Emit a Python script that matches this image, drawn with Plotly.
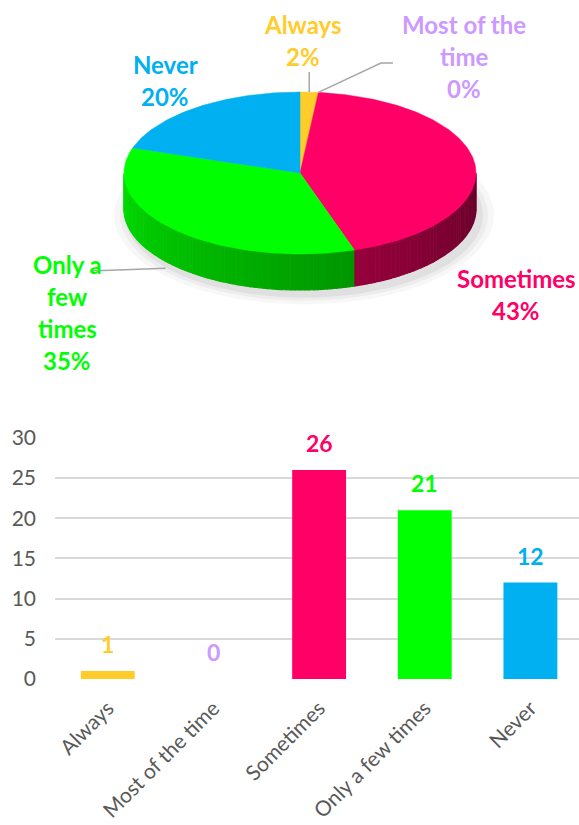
import math
import plotly.graph_objects as go

# ---- data ----
categories = ["Always", "Most of the time", "Sometimes", "Only a few times", "Never"]
counts = [1, 0, 26, 21, 12]
colors = ["#FFCC29", "#CC99FF", "#FF0066", "#00FF00", "#00B0F0"]
pie_label_lines = [["Always"], ["Most of the", "time"], ["Sometimes"], ["Only a", "few", "times"], ["Never"]]
y_ticks = [0, 5, 10, 15, 20, 25, 30]

W, H = 579, 825
FONT = "Lato"
GREY = "#595959"

total = sum(counts)
pcts = [round(c / total * 100) for c in counts]

# ---- tilted pie geometry, in page pixels on a hidden overlay axis ----
CX, CY, RX, RY, DEPTH = 300, 173, 176, 81, 36


def rim(theta, drop=0.0):
    """Point on the pie rim; theta in degrees clockwise from 12 o'clock."""
    t = math.radians(theta)
    return CX + RX * math.sin(t), CY - RY * math.cos(t) + drop


def shade(hex_color, k):
    r, g, b = (int(hex_color[i:i + 2], 16) for i in (1, 3, 5))
    return "rgb({},{},{})".format(int(r * k), int(g * k), int(b * k))


def arc(a0, a1, drop=0.0, step=1.0):
    n = max(2, int(abs(a1 - a0) / step) + 1)
    return [rim(a0 + (a1 - a0) * i / (n - 1), drop) for i in range(n)]


fig = go.Figure()

# soft shadow under the pie
for grow, alpha in [(14, 0.03), (8, 0.04), (3, 0.05)]:
    pts = [(CX + 4 + (RX + grow) * math.sin(math.radians(a)),
            CY + DEPTH + 6 - (RY + grow * 0.6) * math.cos(math.radians(a))) for a in range(0, 361, 3)]
    fig.add_trace(go.Scatter(x=[p[0] for p in pts], y=[p[1] for p in pts], fill="toself",
                             fillcolor="rgba(0,0,0,{})".format(alpha), line=dict(width=0),
                             mode="lines", xaxis="x2", yaxis="y2", hoverinfo="skip", showlegend=False))

# slice angles
bounds = []
start = 0.0
for c in counts:
    span = 360.0 * c / total
    bounds.append((start, start + span))
    start += span

# front rim (visible side wall) drawn in narrow shaded strips
for (a0, a1), col in zip(bounds, colors):
    lo, hi = max(a0, 90.0), min(a1, 270.0)
    if hi <= lo:
        continue
    n = max(1, int((hi - lo) / 1.5))
    for i in range(n):
        s0 = lo + (hi - lo) * i / n
        s1 = lo + (hi - lo) * (i + 1) / n
        mid = (s0 + s1) / 2
        k = 0.40 + 0.47 * (mid - 90) / 180
        pts = arc(s0, s1, 0, 0.5) + arc(s1, s0, DEPTH, 0.5)
        c_side = shade(col, k)
        fig.add_trace(go.Scatter(x=[p[0] for p in pts], y=[p[1] for p in pts], fill="toself",
                                 fillcolor=c_side, line=dict(width=1.2, color=c_side),
                                 mode="lines", xaxis="x2", yaxis="y2", hoverinfo="skip", showlegend=False))

# top faces
for (a0, a1), col in zip(bounds, colors):
    if a1 <= a0:
        continue
    pts = [(CX, CY)] + arc(a0, a1) + [(CX, CY)]
    fig.add_trace(go.Scatter(x=[p[0] for p in pts], y=[p[1] for p in pts], fill="toself",
                             fillcolor=col, line=dict(width=0.5, color=col),
                             mode="lines", xaxis="x2", yaxis="y2", hoverinfo="skip", showlegend=False))

# ---- pie labels ----
label_pos = [(303, 24), (464, 24), (516, 278), (67, 264), (165, 64)]
LINE = 32
annotations = []
for lines, p, (lx, ly), col in zip(pie_label_lines, pcts, label_pos, colors):
    for i, txt in enumerate(lines + ["{}%".format(p)]):
        annotations.append(dict(x=lx, y=ly + i * LINE, xref="x2", yref="y2", text=txt, showarrow=False,
                                xanchor="center", yanchor="middle",
                                font=dict(family=FONT, size=24, color=col, weight="bold")))

# leader lines
shapes = []
ax, ay = rim((bounds[0][0] + bounds[0][1]) / 2)
shapes.append(dict(type="line", xref="x2", yref="y2", x0=ax, y0=ay, x1=ax, y1=72,
                   line=dict(color="#A6A6A6", width=1.5)))
mx, my = rim(bounds[1][0])
shapes.append(dict(type="path", xref="x2", yref="y2",
                   path="M {:.1f} {:.1f} L 381 63 L 393 63".format(mx, my),
                   line=dict(color="#A6A6A6", width=1.5)))
ox, oy = rim((bounds[3][0] + bounds[3][1]) / 2, DEPTH)
shapes.append(dict(type="line", xref="x2", yref="y2", x0=ox - 10, y0=oy + 2, x1=90, y1=271,
                   line=dict(color="#A6A6A6", width=1.5)))

# ---- bar chart ----
fig.add_trace(go.Bar(x=categories, y=counts, marker=dict(color=colors, line=dict(width=0)),
                     width=0.51, xaxis="x", yaxis="y", hoverinfo="skip", showlegend=False))
for cat, c, col in zip(categories, counts, colors):
    annotations.append(dict(x=cat, y=c, xref="x", yref="y", text=str(c), showarrow=False,
                            xanchor="center", yanchor="bottom", yshift=11,
                            font=dict(family=FONT, size=23, color=col, weight="bold")))

fig.update_layout(
    width=W, height=H,
    margin=dict(l=0, r=0, t=0, b=0),
    paper_bgcolor="white",
    plot_bgcolor="rgba(0,0,0,0)",
    showlegend=False,
    font=dict(family=FONT, color=GREY),
    xaxis=dict(domain=[55 / W, 1.0], range=[-0.5, 4.46], anchor="y", tickangle=-45,
               showgrid=False, zeroline=False, showline=False, ticks="", automargin=False,
               ticklabelstandoff=12,
               tickfont=dict(family=FONT, size=21, color=GREY), fixedrange=True),
    yaxis=dict(domain=[(H - 679) / H, (H - 437) / H], range=[0, 30.1], anchor="x",
               tickvals=y_ticks, showgrid=True, gridcolor="#D9D9D9", gridwidth=1.5,
               zeroline=False, showline=False, ticks="", ticklabelstandoff=18, automargin=False,
               tickfont=dict(family=FONT, size=21, color=GREY), fixedrange=True),
    xaxis2=dict(domain=[0, 1], range=[0, W], anchor="y2", visible=False, fixedrange=True,
                automargin=False),
    yaxis2=dict(domain=[0, 1], range=[H, 0], anchor="x2", visible=False, fixedrange=True,
                automargin=False),
    annotations=annotations,
    shapes=shapes,
)

fig.write_html("out.html")
